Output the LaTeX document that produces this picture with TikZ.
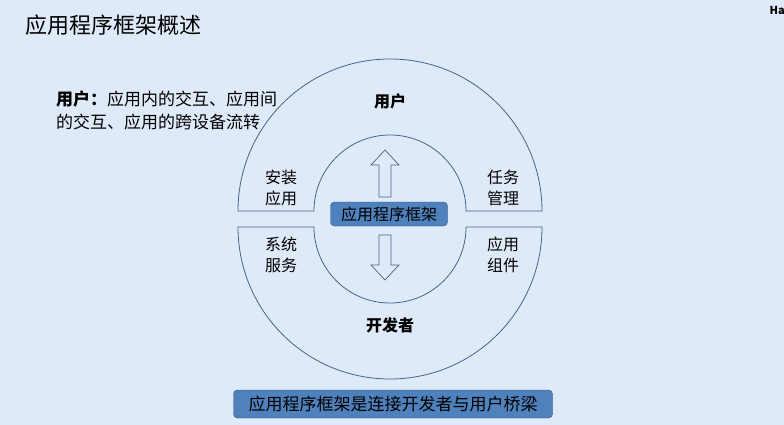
\documentclass[tikz,border=0pt]{standalone}
\usepackage{fontspec}
\setmainfont{Noto Sans CJK SC}
\definecolor{bgc}{RGB}{223,234,248}
\definecolor{linec}{RGB}{70,100,135}
\definecolor{boxc}{RGB}{79,129,189}
\definecolor{boxd}{RGB}{45,80,125}
\tikzset{
  ring/.style={draw=linec, line width=0.8pt, fill=bgc},
  lab/.style={align=center, font=\fontsize{16}{21}\selectfont},
  frame/.style={draw=boxd, fill=boxc, rounded corners=4pt, font=\fontsize{16}{18}\selectfont, inner sep=0pt},
  hollow/.style={draw=linec, fill=bgc, line width=0.7pt}
}
\begin{document}
\begin{tikzpicture}[x=1pt,y=-1pt]
  \fill[bgc] (0,0) rectangle (784,425);
  \useasboundingbox (0,0) rectangle (784,425);
  % title
  \node[anchor=west, font=\fontsize{22}{24}\selectfont] (title) at (22,25) {应用程序框架概述};
  \node[anchor=west, font=\fontsize{11}{13}\selectfont\bfseries] (ha) at (766,10) {Ha};
  % rings
  \draw[ring] (238,211) arc[start angle=180, end angle=360, radius=152] -- (466,211)
     arc[start angle=360, end angle=180, radius=76] -- cycle;
  \draw[ring] (238,227) arc[start angle=180, end angle=0, radius=152] -- (466,227)
     arc[start angle=0, end angle=180, radius=76] -- cycle;
  % arrows
  \draw[hollow] (379,197) -- (379,165) -- (371,165) -- (385,150) -- (399,165) -- (391,165) -- (391,197) -- cycle;
  \draw[hollow] (379,235) -- (379,265) -- (371,265) -- (385,280) -- (399,265) -- (391,265) -- (391,235) -- cycle;
  % labels
  \node[lab, font=\fontsize{16}{21}\selectfont\bfseries] (user) at (390,101) {用户};
  \node[lab, font=\fontsize{16}{21}\selectfont\bfseries] (dev) at (390,325) {开发者};
  \node[lab] (install) at (281,188) {安装\\应用};
  \node[lab] (task) at (503,188) {任务\\管理};
  \node[lab] (sys) at (281,255) {系统\\服务};
  \node[lab] (comp) at (503,255) {应用\\组件};
  \node[frame, minimum width=117pt, minimum height=24pt] (fw) at (389,214) {应用程序框架};
  \node[frame, minimum width=319pt, minimum height=28pt, font=\fontsize{17}{19}\selectfont] (bridge) at (393,404) {应用程序框架是连接开发者与用户桥梁};
  \node[anchor=north west, align=left, inner sep=0pt, font=\fontsize{17}{23}\selectfont] (desc) at (56,91)
     {\textbf{用户：}应用内的交互、应用间\\的交互、应用的跨设备流转};
\end{tikzpicture}
\end{document}
